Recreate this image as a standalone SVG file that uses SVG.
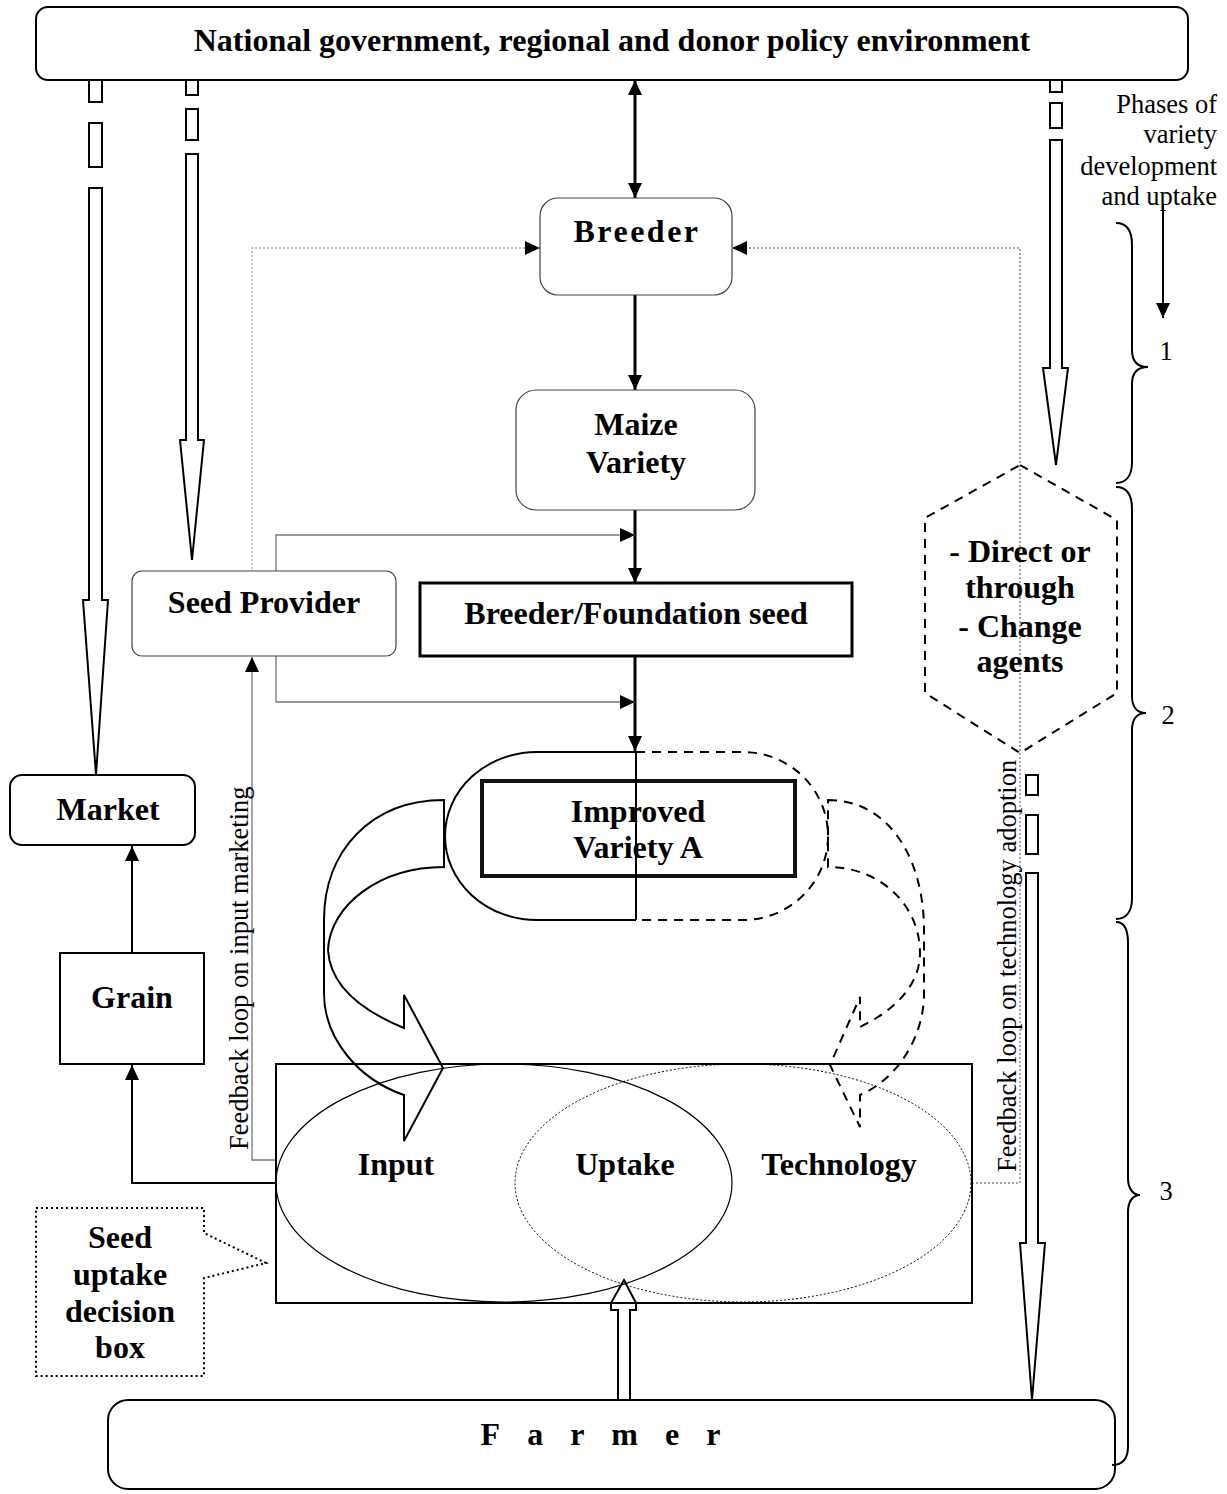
<svg xmlns="http://www.w3.org/2000/svg" width="1227" height="1494" viewBox="0 0 1227 1494">
<defs>
<style>
text{font-family:"Liberation Serif","Times New Roman",serif;fill:#000}
.b{font-weight:bold;font-size:32px;text-anchor:middle}
.r{font-size:26.5px}
.box{fill:#fff;stroke:#000;stroke-width:2}
.thin{fill:#fff;stroke:#444;stroke-width:1.2}
.hollow{fill:#fff;stroke:#000;stroke-width:2}
.k{fill:none;stroke:#000;stroke-width:3}
.g{fill:none;stroke:#777;stroke-width:1.3}
.dot{fill:none;stroke:#888;stroke-width:1.5;stroke-dasharray:2 2}
.dash{fill:none;stroke:#000;stroke-width:2;stroke-dasharray:9 7}
</style>
<marker id="ah" markerUnits="userSpaceOnUse" markerWidth="16" markerHeight="14" refX="15" refY="7" orient="auto"><path d="M0,0 L15,7 L0,14 z" fill="#000"/></marker>
<marker id="ahs" markerUnits="userSpaceOnUse" markerWidth="16" markerHeight="14" refX="15" refY="7" orient="auto-start-reverse"><path d="M0,0 L15,7 L0,14 z" fill="#000"/></marker>
</defs>
<rect width="1227" height="1494" fill="#fff"/>

<g id="connectors">
<!-- hollow dashed arrows from policy -->
<rect class="hollow" x="89" y="80" width="13" height="22"/>
<rect class="hollow" x="89" y="123" width="13" height="44"/>
<polygon class="hollow" points="89,188 102,188 102,600 108,600 96,775 83,600 89,600"/>
<rect class="hollow" x="186" y="80" width="12" height="15"/>
<rect class="hollow" x="186" y="109" width="12" height="31"/>
<polygon class="hollow" points="186,154 198,154 198,440 204,440 192,560 180,440 186,440"/>
<rect class="hollow" x="1050" y="80" width="12" height="12"/>
<rect class="hollow" x="1050" y="103" width="12" height="25"/>
<polygon class="hollow" points="1050,140 1062,140 1062,368 1068,368 1056,465 1043,368 1050,368"/>
<rect class="hollow" x="1026" y="775" width="12" height="20"/>
<rect class="hollow" x="1026" y="815" width="12" height="39"/>
<polygon class="hollow" points="1026,873 1038,873 1038,1243 1045,1243 1032,1400 1020,1243 1026,1243"/>
<!-- farmer uptake arrow -->
<polygon class="hollow" points="618,1400 618,1310 611,1310 611,1303 624,1280 636,1303 636,1310 630,1310 630,1400"/>
<!-- central thick flow -->
<line class="k" x1="635" y1="80" x2="635" y2="198" marker-start="url(#ahs)" marker-end="url(#ah)"/>
<line class="k" x1="635" y1="295" x2="635" y2="390" marker-end="url(#ah)"/>
<line class="k" x1="635" y1="510" x2="635" y2="583" marker-end="url(#ah)"/>
<line class="k" x1="635" y1="657" x2="635" y2="751" marker-end="url(#ah)"/>
<!-- seed provider links -->
<polyline class="g" points="276,571 276,535 635,535" marker-end="url(#ah)"/>
<polyline class="g" points="276,656 276,702 635,702" marker-end="url(#ah)"/>
<polyline class="g" points="276,1160 252,1160 252,657" marker-end="url(#ah)"/>
<!-- feedback dotted -->
<polyline fill="none" stroke="#aaa" stroke-width="1.3" stroke-dasharray="2 2" points="252,585 252,248 540,248" marker-end="url(#ah)"/>
<polyline class="dot" points="972,1183 1020,1183 1020,248 732,248" marker-end="url(#ah)"/>
<!-- grain / market -->
<polyline fill="none" stroke="#000" stroke-width="2" points="276,1183 132,1183 132,1065" marker-end="url(#ah)"/>
<line x1="132" y1="953" x2="132" y2="846" stroke="#000" stroke-width="2" marker-end="url(#ah)"/>
<!-- phases arrow -->
<line x1="1163" y1="203" x2="1163" y2="318" stroke="#000" stroke-width="2" marker-end="url(#ah)"/>
<!-- curved arrows -->
<path fill="none" stroke="#000" stroke-width="2" d="M444,800 C372,800 324,850 324,920 L324,993 C324,1040 360,1080 404,1095 L404,1141 L443,1068 L404,995 L404,1028 C360,1010 330,985 328,950 C330,905 380,867 444,867 Z"/>
<path class="dash" d="M828,800 C890,800 924,860 924,930 L924,993 C924,1040 895,1080 860,1095 L860,1127 L830,1065 L860,997 L860,1027 C895,1010 920,985 920,953 C920,905 880,867 828,867 Z"/>
</g>

<g id="policy">
<rect class="box" x="36" y="7" width="1152" height="73" rx="12"/>
<text class="b" x="612" y="51">National government, regional and donor policy environment</text>
</g>

<g id="breeder">
<rect class="thin" x="540" y="198" width="192" height="97" rx="18"/>
<text class="b" x="637" y="242" letter-spacing="2.5">Breeder</text>
</g>

<g id="maize">
<rect class="thin" x="516" y="390" width="239" height="120" rx="20"/>
<text class="b" x="636" y="435">Maize</text>
<text class="b" x="636" y="473">Variety</text>
</g>

<g id="seed-provider">
<rect class="thin" x="132" y="571" width="264" height="85" rx="10"/>
<text class="b" x="264" y="613">Seed Provider</text>
</g>

<g id="foundation">
<rect x="420" y="583" width="432" height="73" fill="#fff" stroke="#000" stroke-width="3"/>
<text class="b" x="636" y="624">Breeder/Foundation seed</text>
</g>

<g id="improved">
<path d="M636,752 L537,752 A92,84 0 0 0 537,920 L636,920" fill="none" stroke="#000" stroke-width="2"/>
<path d="M636,752 L743,752 A85,84 0 0 1 743,920 L636,920" class="dash"/>
<rect x="482" y="781" width="313" height="95" fill="none" stroke="#111" stroke-width="4"/>
<line x1="636" y1="752" x2="636" y2="920" stroke="#000" stroke-width="2"/>
<text class="b" x="638" y="822">Improved</text>
<text class="b" x="638" y="858">Variety A</text>
</g>

<g id="change-agents">
<polygon points="1020,465 1117,520 1117,693 1020,753 925,693 925,518" fill="none" stroke="#000" stroke-width="2" stroke-dasharray="9 7"/>
<text class="b" x="1020" y="562">- Direct or</text>
<text class="b" x="1020" y="598">through</text>
<text class="b" x="1020" y="637">- Change</text>
<text class="b" x="1020" y="672">agents</text>
</g>

<g id="market">
<rect class="box" x="10" y="775" width="185" height="70" rx="12"/>
<text class="b" x="108" y="820">Market</text>
</g>

<g id="grain">
<rect class="box" x="60" y="953" width="144" height="111"/>
<text class="b" x="132" y="1008">Grain</text>
</g>

<g id="decision-box">
<rect x="276" y="1064" width="696" height="239" fill="none" stroke="#000" stroke-width="2"/>
<ellipse cx="504" cy="1183" rx="228" ry="119" fill="none" stroke="#000" stroke-width="1.2"/>
<ellipse cx="743" cy="1183" rx="228" ry="119" fill="none" stroke="#000" stroke-width="1" stroke-dasharray="2 2"/>
<text class="b" x="396" y="1175">Input</text>
<text class="b" x="625" y="1175">Uptake</text>
<text class="b" x="839" y="1175">Technology</text>
</g>

<g id="callout">
<path d="M36,1208 L204,1208 L204,1233 L266,1263 L204,1278 L204,1376 L36,1376 Z" fill="none" stroke="#000" stroke-width="2" stroke-dasharray="2 3"/>
<text class="b" x="120" y="1248">Seed</text>
<text class="b" x="120" y="1285">uptake</text>
<text class="b" x="120" y="1322">decision</text>
<text class="b" x="120" y="1358">box</text>
</g>

<g id="farmer">
<rect class="box" x="108" y="1400" width="1007" height="89" rx="20"/>
<text class="b" x="614" y="1445" letter-spacing="27">Farmer</text>
</g>

<g id="labels">
<text class="r" transform="translate(248,1150) rotate(-90)">Feedback loop on input marketing</text>
<text class="r" transform="translate(1016,1172) rotate(-90)">Feedback loop on technology adoption</text>
<text class="r" x="1217" y="113" text-anchor="end">Phases of</text>
<text class="r" x="1217" y="143" text-anchor="end">variety</text>
<text class="r" x="1217" y="175" text-anchor="end">development</text>
<text class="r" x="1217" y="205" text-anchor="end">and uptake</text>
<text class="r" x="1166" y="360" text-anchor="middle">1</text>
<text class="r" x="1168" y="724" text-anchor="middle">2</text>
<text class="r" x="1166" y="1200" text-anchor="middle">3</text>
</g>

<g id="braces" fill="none" stroke="#000" stroke-width="2">
<path d="M1116,223 C1128,223 1132,232 1132,245 L1132,350 C1132,362 1138,367 1148,367 C1138,367 1132,372 1132,384 L1132,462 C1132,476 1126,483 1116,483"/>
<path d="M1116,487 C1128,487 1132,496 1132,509 L1132,696 C1132,708 1138,713 1146,713 C1138,713 1132,718 1132,730 L1132,898 C1132,912 1126,919 1116,919"/>
<path d="M1116,922 C1124,922 1128,930 1128,943 L1128,1178 C1128,1190 1134,1195 1140,1195 C1134,1195 1128,1200 1128,1212 L1128,1446 C1128,1459 1122,1465 1112,1465"/>
</g>
</svg>
